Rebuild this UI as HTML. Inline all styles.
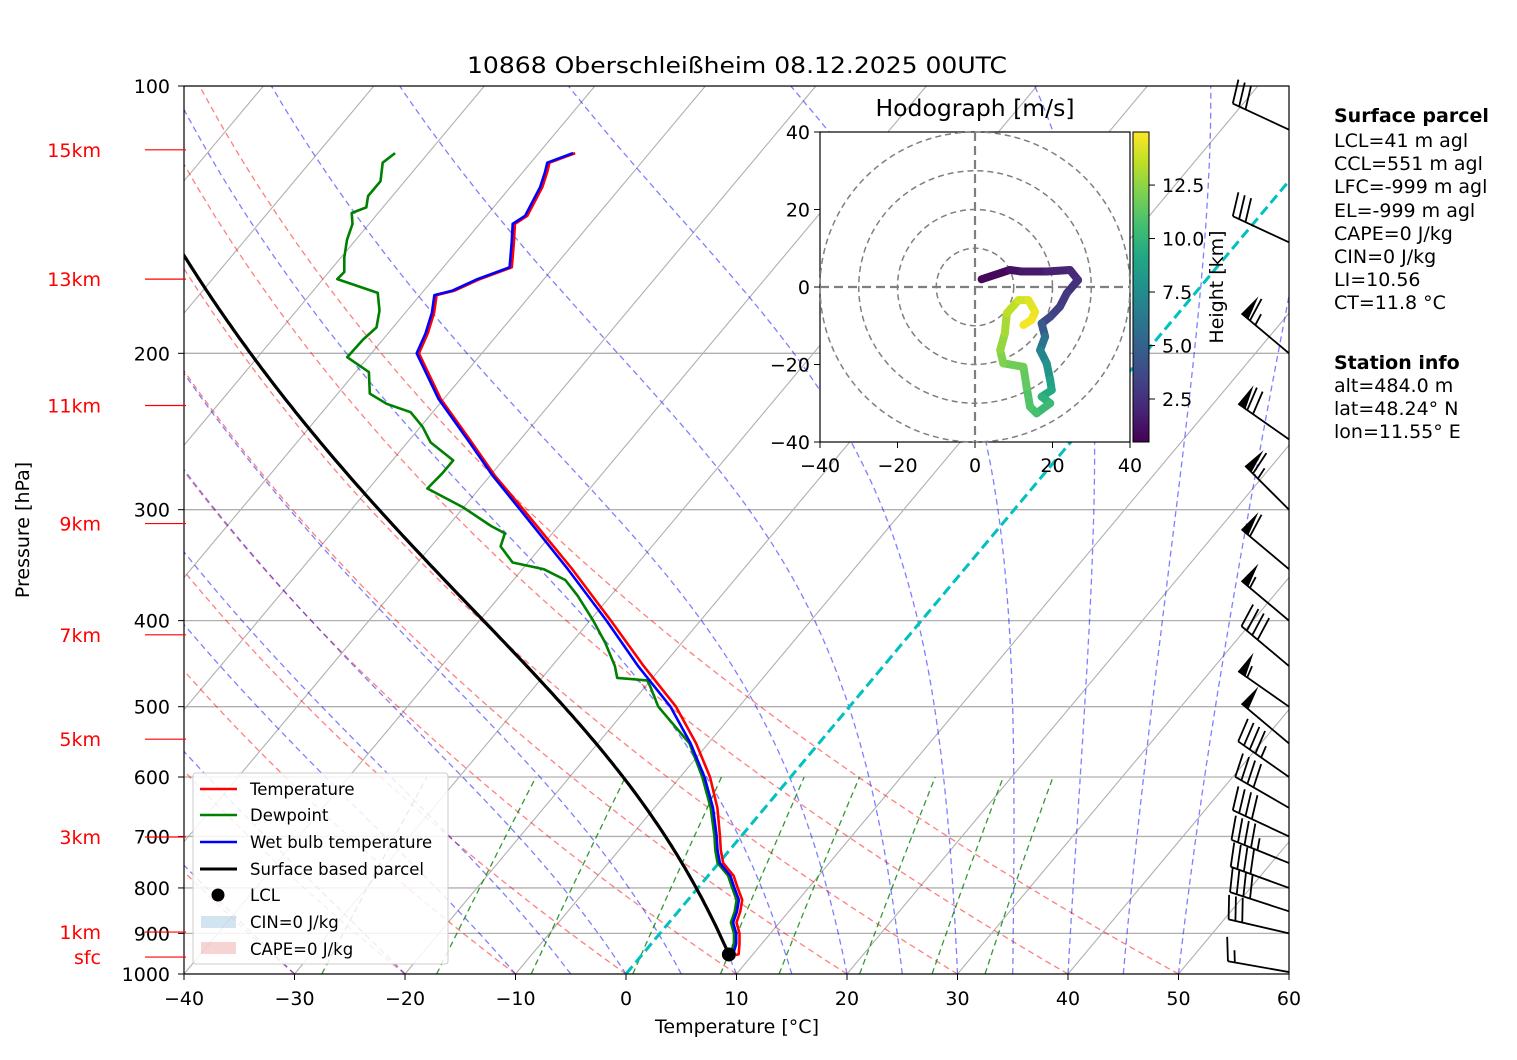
<!DOCTYPE html>
<html><head><meta charset="utf-8">
<style>
html,body{margin:0;padding:0;background:#fff;}
svg{display:block;font-family:"DejaVu Sans","Liberation Sans",sans-serif;}
</style></head>
<body>
<svg id="chart" width="1517" height="1060" viewBox="0 0 1517 1060" xmlns="http://www.w3.org/2000/svg">
<defs>
<clipPath id="mainclip"><rect x="184" y="86" width="1105" height="888"/></clipPath>
<linearGradient id="viridis" x1="0" y1="1" x2="0" y2="0">
<stop offset="0" stop-color="#440154"/><stop offset="0.1" stop-color="#482475"/><stop offset="0.2" stop-color="#414487"/><stop offset="0.3" stop-color="#355f8d"/><stop offset="0.4" stop-color="#2a788e"/><stop offset="0.5" stop-color="#21918c"/><stop offset="0.6" stop-color="#22a884"/><stop offset="0.7" stop-color="#44bf70"/><stop offset="0.8" stop-color="#7ad151"/><stop offset="0.9" stop-color="#bddf26"/><stop offset="1" stop-color="#fde725"/>
</linearGradient>
</defs>
<text x="737" y="73" font-size="22" text-anchor="middle" textLength="540" lengthAdjust="spacingAndGlyphs">10868 Oberschleißheim 08.12.2025 00UTC</text>
<g id="bg" clip-path="url(#mainclip)"></g>
<g id="profiles" clip-path="url(#mainclip)"></g>
<rect x="184" y="86" width="1105" height="888" fill="none" stroke="#000" stroke-width="1.2"/>
<g id="axes"></g>
<g id="barbs"></g>
<g id="hodo"></g>
<g id="legend">
<rect x="193" y="773" width="255" height="191" rx="3" fill="#fff" fill-opacity="0.85" stroke="#ccc"/>
<line x1="200" y1="789" x2="237" y2="789" stroke="red" stroke-width="2.5"/><text x="250" y="795" font-size="16.5">Temperature</text>
<line x1="200" y1="815" x2="237" y2="815" stroke="green" stroke-width="2.5"/><text x="250" y="821" font-size="16.5">Dewpoint</text>
<line x1="200" y1="842" x2="237" y2="842" stroke="blue" stroke-width="2.5"/><text x="250" y="848" font-size="16.5">Wet bulb temperature</text>
<line x1="200" y1="869" x2="237" y2="869" stroke="#000" stroke-width="3"/><text x="250" y="875" font-size="16.5">Surface based parcel</text>
<circle cx="218" cy="895" r="6.5" fill="#000"/><text x="250" y="901" font-size="16.5">LCL</text>
<rect x="201" y="916" width="35" height="12" fill="#1f77b4" fill-opacity="0.2"/><text x="250" y="928" font-size="16.5">CIN=0 J/kg</text>
<rect x="201" y="942" width="35" height="12" fill="#d62728" fill-opacity="0.2"/><text x="250" y="955" font-size="16.5">CAPE=0 J/kg</text>
</g>
<g id="info" font-size="19">
<text x="1334" y="122" font-weight="bold">Surface parcel</text>
<text x="1334" y="147">LCL=41 m agl</text>
<text x="1334" y="170">CCL=551 m agl</text>
<text x="1334" y="193">LFC=-999 m agl</text>
<text x="1334" y="217">EL=-999 m agl</text>
<text x="1334" y="240">CAPE=0 J/kg</text>
<text x="1334" y="263">CIN=0 J/kg</text>
<text x="1334" y="286">LI=10.56</text>
<text x="1334" y="309">CT=11.8 °C</text>
<text x="1334" y="369" font-weight="bold">Station info</text>
<text x="1334" y="392">alt=484.0 m</text>
<text x="1334" y="415">lat=48.24° N</text>
<text x="1334" y="438">lon=11.55° E</text>
</g>
</svg>
<script>
// ---- data ----
const profP = [952,950,925,900,875,850,825,800,775,750,725,700,650,600,550,500,450,400,350,300,275,250,225,200,190,180,172,170,165,160,150,143,140,130,125,122,119];
const tempT = [8.5,8.7,8.0,7.2,6.1,5.6,4.9,3.6,2.3,0.4,-0.8,-1.9,-4.3,-7.3,-11.1,-15.7,-21.7,-28.1,-35.5,-44.4,-49.5,-54.6,-60.3,-65.7,-66.4,-67.4,-68.5,-67.2,-65.8,-63.8,-65.5,-66.8,-66.3,-67.1,-67.8,-68.3,-66.7];
const wetT = [8.0,8.2,7.7,6.9,5.8,5.3,4.6,3.3,2.0,0.1,-1.1,-2.2,-4.7,-7.8,-11.6,-16.2,-22.2,-28.5,-35.9,-44.7,-49.7,-54.8,-60.5,-65.9,-66.6,-67.6,-68.7,-67.4,-66.0,-64.0,-65.7,-67.0,-66.5,-67.3,-68.0,-68.5,-66.9];
const dewP = [952,950,925,900,875,850,825,800,775,750,725,700,650,600,550,500,474,467,464,450,424,400,375,360,350,344,330,319,313,298,284,273,264,252,242,233,228,222,210,202,193,187,179,171,165,162,156,149,143,139,137,133,128,122,119];
const dewT = [7.7,7.9,7.5,6.7,5.6,5.1,4.4,3.1,1.8,-0.1,-1.3,-2.4,-4.9,-8.0,-11.7,-17.3,-19.6,-20.3,-23.2,-24.3,-26.9,-29.7,-33.0,-35.3,-38.1,-41.4,-43.7,-44.3,-46.1,-50.1,-54.7,-54.5,-54.5,-57.9,-59.8,-62,-64.8,-67.1,-68.8,-71.9,-71.8,-71.5,-72.5,-74,-78.7,-78.6,-79.7,-80.8,-81.5,-82.4,-81.5,-82.2,-82.2,-83.4,-83];
const sfcP = 955, sfcT = 8.2, sfcTd = 7.9;
const xTicks = [-40,-30,-20,-10,0,10,20,30,40,50,60];
const pTicks = [100,200,300,400,500,600,700,800,900,1000];
const heightLabels = ["15km","13km","11km","9km","7km","5km","3km","1km","sfc"];
const heightP = [118,165,229,311,415,544,701,897,957];
const dryTheta = [-40,-30,-20,-10,0,10,20,30,40,50];
const moistT0 = [-30,-20,-10,-5,0,5,10,15,20,25,30,35,40,45,50];
const mixW = [0.0004,0.001,0.002,0.004,0.007,0.01,0.016,0.024,0.032];
const windP = [995,900,850,800,750,700,650,600,550,500,450,400,350,300,250,200,150,112];
const windDir = [280,283,288,290,292,295,300,305,310,305,310,310,310,315,305,310,295,295];
const windSpd = [15,30,40,40,45,40,40,45,50,55,40,55,60,65,70,65,30,30];
const hodoU = [1.7,9,12,18.5,24.5,26.6,23.7,21.9,19.4,17.2,18.1,16.8,18.5,19.4,19.8,17.2,19.4,15.9,14.2,13.3,12.5,7.3,6.5,7.7,8.2,11.2,13.8,15.5,14.6,12.5];
const hodoV = [2.0,4.4,4,4,4.4,1.8,-1.6,-5.1,-7.7,-9.4,-12.8,-16.3,-19.7,-24,-26.6,-28.3,-30,-32.6,-30.9,-25.7,-20.6,-19.7,-16.3,-12,-6.8,-3.4,-3.4,-6.4,-8.5,-9.8];
const hodoH = [0.6,1.0,1.3,1.7,2.0,2.3,2.7,3.0,3.4,3.8,5.5,6.5,7.5,8.5,9.0,9.5,10.0,10.5,10.8,11.2,11.6,12.0,12.4,12.8,13.3,13.8,14.2,14.5,14.7,14.9];
const hodoTicks = [-40,-20,0,20,40];
const cbTicks = [2.5,5.0,7.5,10.0,12.5];

// ---- axes functions ----
const NS = "http://www.w3.org/2000/svg";
const X0 = 184, PXC = 11.05, YB = 974, DEC = 888, SKEW = 0.836;
function hP(p){ return DEC*Math.log10(1000/p); }
function yP(p){ return YB - hP(p); }
function xTP(T,p){ return X0 + (T+40)*PXC + SKEW*hP(p); }
function mk(tag, attrs, parent){ const e=document.createElementNS(NS,tag); for(const k in attrs) e.setAttribute(k,attrs[k]); parent.appendChild(e); return e; }
function pathFrom(ps, ts){ let d=""; for(let i=0;i<ps.length;i++){ d+=(i?"L":"M")+xTP(ts[i],ps[i]).toFixed(1)+","+yP(ps[i]).toFixed(1);} return d; }
function es(Tc){ return 6.112*Math.exp(17.67*Tc/(Tc+243.5)); }
function moistProfile(p0,T0c,pEnd){
  const Rd=287.04,Cp=1005.7,Lv=2.501e6,eps=0.622;
  let T=T0c+273.15, lp=Math.log(p0); const lend=Math.log(pEnd); const n=200; const dl=(lend-lp)/n;
  const P=[p0],Ts=[T0c];
  const f=(T,p)=>{const e=es(T-273.15); const rs=eps*e/(p-e); return (Rd*T+Lv*rs)/(Cp+Lv*Lv*rs*eps/(Rd*T*T));};
  for(let i=0;i<n;i++){
    const k1=f(T,Math.exp(lp)); const k2=f(T+0.5*dl*k1,Math.exp(lp+0.5*dl)); const k3=f(T+0.5*dl*k2,Math.exp(lp+0.5*dl)); const k4=f(T+dl*k3,Math.exp(lp+dl));
    T+=dl*(k1+2*k2+2*k3+k4)/6; lp+=dl; P.push(Math.exp(lp)); Ts.push(T-273.15);
  }
  return [P,Ts];
}

const bg=document.getElementById('bg');
pTicks.forEach(p=>{ const l=mk('line',{x1:184,x2:1289,y1:yP(p),y2:yP(p),stroke:'#b0b0b0','stroke-width':1.3},bg);

 });
for(let T=-150;T<=60;T+=10){ if(T===0) continue; const l=mk('line',{x1:xTP(T,1000),y1:yP(1000),x2:xTP(T,100),y2:yP(100),stroke:'#b0b0b0','stroke-width':1.1},bg);

 }
dryTheta.forEach(th=>{ const ps=[],ts=[]; for(let p=1000;p>=100;p-=10){ps.push(p); ts.push((th+273.15)*Math.pow(p/1000,0.2857)-273.15);} const e=mk('path',{d:pathFrom(ps,ts),fill:'none',stroke:'#ff0000','stroke-opacity':0.5,'stroke-width':1.3,'stroke-dasharray':'6,4'},bg);

 });
moistT0.forEach(t0=>{ const r=moistProfile(1000,t0,100); const e=mk('path',{d:pathFrom(r[0],r[1]),fill:'none',stroke:'#0000ff','stroke-opacity':0.5,'stroke-width':1.3,'stroke-dasharray':'6,4'},bg);

 });
mixW.forEach(w=>{ const ps=[],ts=[]; for(let p=1000;p>=600;p-=10){ const e=p*w/(0.622+w); const lr=Math.log(e/6.112); ps.push(p); ts.push(243.5*lr/(17.67-lr)); } const e=mk('path',{d:pathFrom(ps,ts),fill:'none',stroke:'#008000','stroke-opacity':0.8,'stroke-width':1.3,'stroke-dasharray':'6,4'},bg);

 });
{ const l=mk('line',{x1:xTP(0,1000),y1:yP(1000),x2:xTP(0,100),y2:yP(100),stroke:'#00c0c0','stroke-width':3,'stroke-dasharray':'10,5'},bg);

 }

const pr=document.getElementById('profiles');
{ const e=mk('path',{d:pathFrom(profP,tempT),fill:'none',stroke:'red','stroke-width':2.6,'stroke-linejoin':'round'},pr);

 }
{ const e=mk('path',{d:pathFrom(dewP,dewT),fill:'none',stroke:'green','stroke-width':2.6,'stroke-linejoin':'round'},pr);

 }
{ const e=mk('path',{d:pathFrom(profP,wetT),fill:'none',stroke:'blue','stroke-width':2.6,'stroke-linejoin':'round'},pr);

 }
{ const Tk=sfcT+273.15, Tdk=sfcTd+273.15; const Tl=1/(1/(Tdk-56)+Math.log(Tk/Tdk)/800)+56; const pl=sfcP*Math.pow(Tl/Tk,3.5);
  const r=moistProfile(pl,Tl-273.15,100); const ps=[sfcP].concat(r[0]), ts=[sfcT].concat(r[1]);
  const e=mk('path',{d:pathFrom(ps,ts),fill:'none',stroke:'#000','stroke-width':3.2},pr);
  
  
  const c=mk('circle',{cx:xTP(Tl-273.15,pl),cy:yP(pl),r:7,fill:'#000'},pr);
  
   }

const ax=document.getElementById('axes');
xTicks.forEach(t=>{ const x=X0+(t+40)*PXC; mk('line',{x1:x,x2:x,y1:974,y2:980,stroke:'#000'},ax); const tx=mk('text',{x:x,y:1005,'font-size':19,'text-anchor':'middle'},ax); tx.textContent=String(t).replace('-','−');

 });
pTicks.forEach(p=>{ const y=yP(p); mk('line',{x1:178,x2:184,y1:y,y2:y,stroke:'#000'},ax); const tx=mk('text',{x:170,y:y+7,'font-size':19,'text-anchor':'end'},ax); tx.textContent=p;

 });
heightLabels.forEach((lab,i)=>{ const y=yP(heightP[i]); mk('line',{x1:145,x2:186,y1:y,y2:y,stroke:'red','stroke-width':1.2},ax); const tx=mk('text',{x:101,y:y+7,'font-size':19,'text-anchor':'end',fill:'red'},ax); tx.textContent=lab;

 });
{ const t=mk('text',{x:737,y:1033,'font-size':19,'text-anchor':'middle'},ax); t.textContent='Temperature [°C]';


const t2=mk('text',{x:29,y:530,'font-size':19,'text-anchor':'middle',transform:'rotate(-90 29 530)'},ax); t2.textContent='Pressure [hPa]';

 }

const bb=document.getElementById('barbs');
windP.forEach((p,i)=>{
  const g=mk('g',{},bb);
  
  
  const bx=1289, by=yP(p); const a=windDir[i]*Math.PI/180; const dx=Math.sin(a), dy=-Math.cos(a);
  const L=62; const tx=bx+dx*L, ty=by+dy*L; const px=-dy, py=dx;
  const ux=-dx, uy=-dy;
  const perp = (py>0)?[-px,-py]:[px,py];
  mk('line',{x1:bx,y1:by,x2:tx,y2:ty,stroke:'#000','stroke-width':1.8},g);
  let s=windSpd[i]; let pos=0; const fl=24, sp=7;
  let n50=Math.floor(s/50); s-=n50*50; let n10=Math.floor(s/10); s-=n10*10; let n5=(s>=5)?1:0;
  for(let k=0;k<n50;k++){ const ax1=tx+ux*pos, ay1=ty+uy*pos; const ax2=tx+ux*(pos+9), ay2=ty+uy*(pos+9);
    mk('polygon',{points:`${ax1},${ay1} ${ax2},${ay2} ${ax1+perp[0]*fl+ux*2},${ay1+perp[1]*fl+uy*2}`,fill:'#000'},g); pos+=11; }
  for(let k=0;k<n10;k++){ const ax1=tx+ux*pos, ay1=ty+uy*pos; mk('line',{x1:ax1,y1:ay1,x2:ax1+perp[0]*fl-ux*5,y2:ay1+perp[1]*fl-uy*5,stroke:'#000','stroke-width':1.8},g); pos+=sp; }
  if(n5){ if(pos===0) pos=sp; const ax1=tx+ux*pos, ay1=ty+uy*pos; mk('line',{x1:ax1,y1:ay1,x2:ax1+perp[0]*fl/2-ux*2.5,y2:ay1+perp[1]*fl/2-uy*2.5,stroke:'#000','stroke-width':1.8},g); }
});

const hd=document.getElementById('hodo');
const HX0=820, HY0=132, HW=310, HH=310; const hcx=975, hcy=287, hs=HW/80;
function hx(u){ return hcx+u*hs; } function hy(v){ return hcy-v*hs; }
{ const fr=mk('rect',{x:HX0,y:HY0,width:HW,height:HH,fill:'#fff',stroke:'#000','stroke-width':1.2},hd);

 }
[10,20,30,40].forEach(r=>{ const c=mk('circle',{cx:hcx,cy:hcy,r:r*hs,fill:'none',stroke:'#7f7f7f','stroke-width':1.5,'stroke-dasharray':'6,4'},hd);

 });
mk('line',{x1:HX0,x2:HX0+HW,y1:hcy,y2:hcy,stroke:'#7f7f7f','stroke-width':2.2,'stroke-dasharray':'9,5'},hd);
mk('line',{x1:hcx,x2:hcx,y1:HY0,y2:HY0+HH,stroke:'#7f7f7f','stroke-width':2.2,'stroke-dasharray':'9,5'},hd);
const vir=['#440154','#482475','#414487','#355f8d','#2a788e','#21918c','#22a884','#44bf70','#7ad151','#bddf26','#fde725'];
function vcol(f){ f=Math.max(0,Math.min(1,f)); const i=Math.min(9,Math.floor(f*10)); const t=f*10-i; const a=vir[i],b=vir[i+1];
  const c=[1,3,5].map(k=>Math.round(parseInt(a.substr(k,2),16)*(1-t)+parseInt(b.substr(k,2),16)*t)); return `rgb(${c.join(',')})`; }
const hmin=0.49,hmax=14.98;
for(let i=0;i<hodoU.length-1;i++){ const col=vcol(((hodoH[i]+hodoH[i+1])/2-hmin)/(hmax-hmin));
  const l=mk('line',{x1:hx(hodoU[i]),y1:hy(hodoV[i]),x2:hx(hodoU[i+1]),y2:hy(hodoV[i+1]),stroke:col,'stroke-width':8,'stroke-linecap':'round'},hd);
  
   }
hodoTicks.forEach(t=>{ const x=hx(t); mk('line',{x1:x,x2:x,y1:442,y2:448,stroke:'#000'},hd); const a=mk('text',{x:x,y:472,'font-size':19,'text-anchor':'middle'},hd); a.textContent=String(t).replace('-','−');


const y=hy(t); mk('line',{x1:814,x2:820,y1:y,y2:y,stroke:'#000'},hd); const b=mk('text',{x:810,y:y+7,'font-size':19,'text-anchor':'end'},hd); b.textContent=String(t).replace('-','−');

 });
{ const t=mk('text',{x:975,y:116,'font-size':23.5,'text-anchor':'middle'},hd); t.textContent='Hodograph [m/s]';

 }
{ const cb=mk('rect',{x:1133,y:132,width:16,height:310,fill:'url(#viridis)',stroke:'#000','stroke-width':1},hd);


cbTicks.forEach(v=>{ const y=442-(v-hmin)/(hmax-hmin)*310; mk('line',{x1:1149,x2:1155,y1:y,y2:y,stroke:'#000'},hd); const t=mk('text',{x:1162,y:y+7,'font-size':19},hd); t.textContent=v.toFixed(1);

 });
const t=mk('text',{x:1223,y:287,'font-size':19,'text-anchor':'middle',transform:'rotate(-90 1223 287)'},hd); t.textContent='Height [km]';

 }
const svg=document.getElementById('chart'); svg.appendChild(document.getElementById('legend'));
</script>
</body></html>
